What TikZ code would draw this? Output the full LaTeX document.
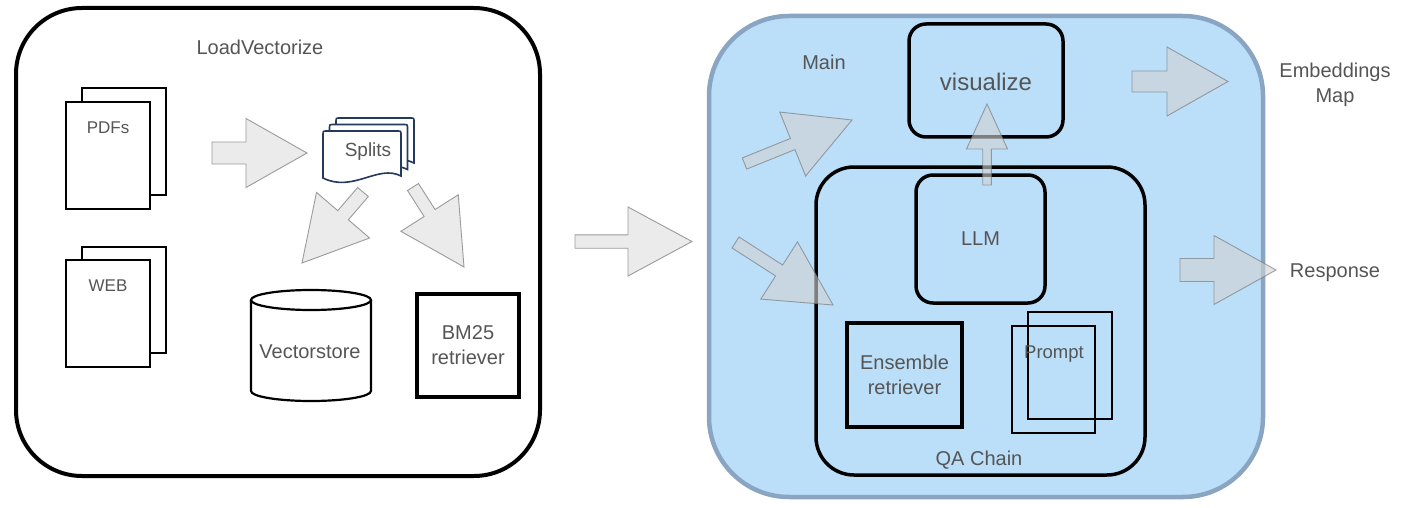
\documentclass[tikz,border=0pt]{standalone}
\usepackage{fontspec}
\setmainfont{Liberation Sans}
\usetikzlibrary{calc}
\definecolor{txt}{RGB}{85,85,85}
\definecolor{mainfill}{RGB}{187,222,249}
\definecolor{mainline}{RGB}{138,165,194}
\definecolor{arrfill}{RGB}{235,235,235}
\definecolor{arrline}{RGB}{155,155,155}
\definecolor{splitline}{RGB}{35,57,93}
\definecolor{tarrfill}{RGB}{210,210,210}
\definecolor{tarrline}{RGB}{110,110,110}
\newcommand{\blockarrow}[6]{%
  \path ($(#3)!#6!(#2)$) coordinate (ba-base);
  \draw[#1] ($(#2)!#4!90:(#3)$) -- ($(ba-base)!#4!-90:(#2)$) -- ($(ba-base)!#5!-90:(#2)$) -- (#3) -- ($(ba-base)!#5!90:(#2)$) -- ($(ba-base)!#4!90:(#2)$) -- ($(#2)!#4!-90:(#3)$) -- cycle;}
\newcommand{\splitdoc}{%
  \filldraw[fill=white, draw=splitline, line width=1.6pt] (0,47) -- (0,4) .. controls (0,0) .. (4,0) -- (74,0) .. controls (78,0) .. (78,4) -- (78,45) .. controls (55,33) and (30,62) .. (0,47) -- cycle;}
\begin{document}
\begin{tikzpicture}[x=1pt,y=-1pt,
  lbl/.style={text=txt, font=\fontsize{20}{25}\selectfont, align=center, inner sep=0pt},
  smalllbl/.style={lbl, font=\fontsize{17}{20}\selectfont},
  docbox/.style={draw, fill=white, line width=1.3pt, inner sep=0pt},
  sqbox/.style={draw, line width=3.5pt, inner sep=0pt, text=txt, font=\fontsize{20}{25}\selectfont, align=center},
  rbox/.style={sqbox, rounded corners=17pt},
  thinbox/.style={draw, line width=1.2pt, inner sep=0pt},
  garrow/.style={fill=arrfill, draw=arrline, line width=0.9pt},
  tarrow/.style={fill=tarrfill, draw=tarrline, fill opacity=0.6, draw opacity=0.6, line width=0.9pt}]
\useasboundingbox (0,0) rectangle (1402,508);
\fill[white] (0,0) rectangle (1402,508);

% ---------- LoadVectorize ----------
\node[draw, line width=4pt, rounded corners=66pt, minimum width=524pt, minimum height=468pt, inner sep=0pt] (lv) at (278,242) {};
\node[lbl] (lvt) at (260,47) {LoadVectorize};

\node[docbox, minimum width=84pt, minimum height=107pt] (pdfb) at (124,141.5) {};
\node[docbox, minimum width=84pt, minimum height=107pt] (pdff) at (108,155.5) {};
\node[smalllbl] (pdft) at (108,128) {PDFs};

\node[docbox, minimum width=84pt, minimum height=106pt] (webb) at (124,300) {};
\node[docbox, minimum width=84pt, minimum height=107pt] (webf) at (108,313.5) {};
\node[smalllbl] (webt) at (108,286) {WEB};

\begin{scope}[shift={(336,118)}]\splitdoc\end{scope}
\begin{scope}[shift={(329.5,124.5)}]\splitdoc\end{scope}
\begin{scope}[shift={(323,131)}]\splitdoc\end{scope}
\node[lbl, font=\fontsize{19}{23}\selectfont] (splits) at (368,151.5) {Splits};

\filldraw[fill=white, line width=2.2pt] (251,300) -- (251,391) arc[start angle=180, end angle=360, x radius=60pt, y radius=10pt] -- (371,300);
\filldraw[fill=white, line width=2.2pt] (311,300) ellipse [x radius=60pt, y radius=10pt];
\node[lbl] (vst) at (310,352) {Vectorstore};

\node[sqbox, minimum width=102pt, minimum height=103pt] (bm) at (468,345.5) {BM25\\retriever};

\coordinate (a1s) at (212,153);   \coordinate (a1e) at (307,153);
\coordinate (a2s) at (363,192);   \coordinate (a2e) at (302,263);
\coordinate (a3s) at (413,187);   \coordinate (a3e) at (464,267);
\coordinate (a4s) at (575,241.5); \coordinate (a4e) at (692,241.5);
\blockarrow{garrow}{a1s}{a1e}{11pt}{34.5pt}{61pt}
\blockarrow{garrow}{a2s}{a2e}{7pt}{35pt}{63pt}
\blockarrow{garrow}{a3s}{a3e}{6.5pt}{34pt}{64pt}
\blockarrow{garrow}{a4s}{a4e}{6.7pt}{34.5pt}{64pt}

% ---------- Main ----------
\node[draw=mainline, fill=mainfill, line width=4.5pt, rounded corners=80pt, minimum width=554pt, minimum height=481pt, inner sep=0pt] (main) at (986,256.5) {};
\node[lbl] (maint) at (824,62) {Main};
\node[rbox, minimum width=154pt, minimum height=113pt, font=\fontsize{24}{28}\selectfont, text depth=0pt] (vis) at (986,80.5) {\raisebox{-2pt}{visualize}};
\node[rbox, rounded corners=38pt, minimum width=329pt, minimum height=308pt] (qa) at (980.5,321) {};
\node[lbl] (qat) at (979,460) {QA Chain};
\node[rbox, minimum width=129pt, minimum height=128pt] (llm) at (980.5,239) {LLM};
\node[sqbox, minimum width=115pt, minimum height=104pt] (ens) at (904.5,375) {Ensemble\\retriever};
\node[thinbox, minimum width=84pt, minimum height=107pt] (prb) at (1070,365.5) {};
\node[thinbox, minimum width=83pt, minimum height=107pt] (prf) at (1053.5,379.5) {};
\node[lbl, font=\fontsize{18.5}{22}\selectfont] (prt) at (1054,354) {Prompt};

\node[lbl] (emb) at (1335,84.5) {Embeddings\\Map};
\node[lbl] (resp) at (1335,272.5) {Response};

\coordinate (b1s) at (744.5,163.5); \coordinate (b1e) at (852,120);
\coordinate (b2s) at (735.5,242.5); \coordinate (b2e) at (833,305);
\coordinate (b3s) at (987,185);     \coordinate (b3e) at (987,104);
\coordinate (b4s) at (1132,81.5);   \coordinate (b4e) at (1228,81.5);
\coordinate (b5s) at (1180,270);    \coordinate (b5e) at (1276,270);
\blockarrow{tarrow}{b1s}{b1e}{6pt}{34.5pt}{64pt}
\blockarrow{tarrow}{b2s}{b2e}{6.5pt}{34pt}{64pt}
\blockarrow{tarrow}{b3s}{b3e}{4.3pt}{20.5pt}{45pt}
\blockarrow{tarrow}{b4s}{b4e}{10.5pt}{34.5pt}{61pt}
\blockarrow{tarrow}{b5s}{b5e}{11.5pt}{34.5pt}{62pt}
\end{tikzpicture}
\end{document}
